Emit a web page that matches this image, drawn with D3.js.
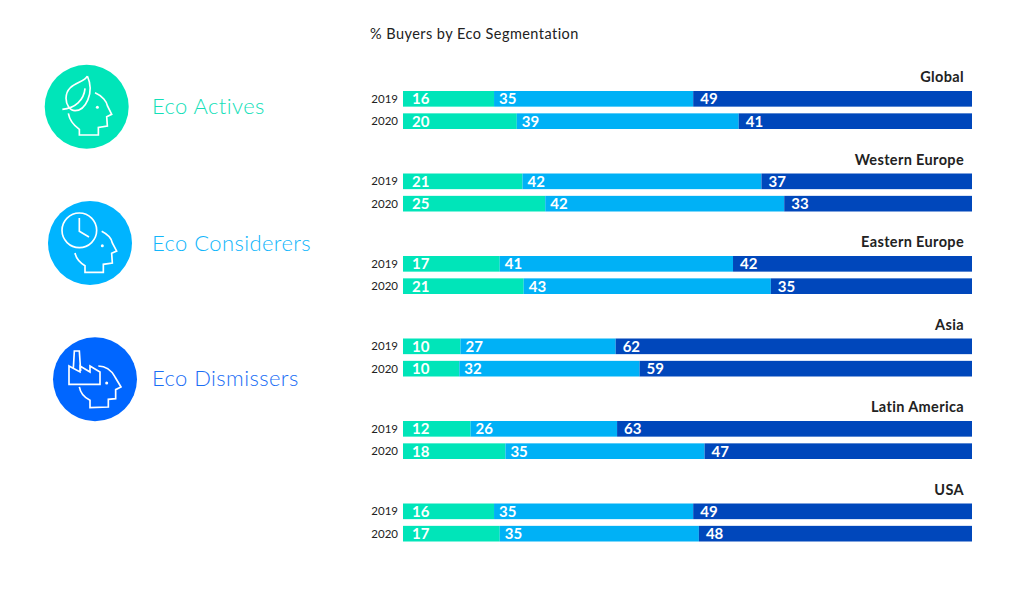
<!DOCTYPE html>
<html>
<head>
<meta charset="utf-8">
<script src="https://cdnjs.cloudflare.com/ajax/libs/d3/7.8.5/d3.min.js"></script>
<style>
html, body { margin: 0; padding: 0; background: #fff; }
svg { display: block; font-family: Lato, "Open Sans", sans-serif; }
</style>
</head>
<body>
<svg id="chart" width="1036" height="593"></svg>
<script>
// values
const regions = ["Global", "Western Europe", "Eastern Europe", "Asia", "Latin America", "USA"];
const years = ["2019", "2020"];
const segments = ["Eco Actives", "Eco Considerers", "Eco Dismissers"];
const ecoActives     = [16, 20, 21, 25, 17, 21, 10, 10, 12, 18, 16, 17];
const ecoConsiderers = [35, 39, 42, 42, 41, 43, 27, 32, 26, 35, 35, 35];
const ecoDismissers  = [49, 41, 37, 33, 42, 35, 62, 59, 63, 47, 49, 48];
const chartTitle = "% Buyers by Eco Segmentation";

const barColours = ["#00e5b9", "#00b1f6", "#0047bb"];
const iconColours = ["#00e5b9", "#00b4ff", "#0066ff"];
const legendTextColours = ["#12e0b8", "#12b6fb", "#1a6ef5"];

const svg = d3.select("#chart");

const rows = [];
regions.forEach((region, r) => {
	years.forEach((year, y) => {
		let i = r * years.length + y;
		rows.push({
			region: region,
			year: year,
			"Eco Actives": ecoActives[i],
			"Eco Considerers": ecoConsiderers[i],
			"Eco Dismissers": ecoDismissers[i]
		});
	});
});

// rounded rows do not always sum to 100, the bars still fill the full width
const stacked = d3.stack().keys(segments).offset(d3.stackOffsetExpand)(rows);

const x = d3.scaleLinear().domain([0, 1]).range([403, 972]);
const regionY = d3.scaleBand().domain(regions).range([91, 586]).paddingInner(0);
const yearY = d3.scaleBand().domain(years).range([0, 38]).paddingInner(0.3);
const rowY = d => regionY(d.data.region) + yearY(d.data.year);
const labelOffset = [9, 5, 7];

const bars = svg.append("g").attr("class", "bars");
stacked.forEach((series, s) => {
	let g = bars.append("g");
	g.selectAll("rect")
		.data(series)
		.enter().append("rect")
		.attr("x", d => x(d[0]))
		.attr("y", rowY)
		.attr("width", d => x(d[1]) - x(d[0]))
		.attr("height", yearY.bandwidth())
		.attr("fill", barColours[s]);
	g.selectAll("text")
		.data(series)
		.enter().append("text")
		.attr("x", d => x(d[0]) + labelOffset[s])
		.attr("y", d => rowY(d) + yearY.bandwidth() / 2 + 5.5)
		.attr("font-size", 15)
		.attr("font-weight", 700)
		.attr("fill", "#fff")
		.text(d => d.data[segments[s]]);
});

// year labels
svg.append("g").selectAll("text")
	.data(rows)
	.enter().append("text")
	.attr("x", 398)
	.attr("y", d => regionY(d.region) + yearY(d.year) + yearY.bandwidth() / 2 + 4)
	.attr("text-anchor", "end")
	.attr("font-size", 11.5)
	.attr("fill", "#222")
	.text(d => d.year);

// region names
svg.append("g").selectAll("text")
	.data(regions)
	.enter().append("text")
	.attr("x", 964)
	.attr("y", d => regionY(d) - 9)
	.attr("text-anchor", "end")
	.attr("font-size", 14.5)
	.attr("font-weight", 700)
	.attr("letter-spacing", 0.35)
	.attr("fill", "#222")
	.text(d => d);

svg.append("text")
	.attr("x", 370)
	.attr("y", 39)
	.attr("font-size", 14.5)
	.attr("letter-spacing", 0.45)
	.attr("fill", "#222")
	.text(chartTitle);

// legend icons, outlines traced by eye, units are 1/3 px from circle centre
const headPaths = [
	"M25,-42 C48,-32 60,-15 62,-3 L75,23 L60,30 L62,58 L35,62 L35,85 L-22,85 L-22,68 C-40,55 -52,38 -55,20",
	"M35,-35 C55,-25 65,-12 67,0 L80,24 L65,31 L67,60 L40,64 L40,88 L-15,88 L-15,68 C-32,58 -42,45 -45,30",
	"M10,-40 C35,-40 52,-22 60,-7 L78,23 L62,31 L62,58 L40,60 L40,83 L-15,85 L-15,63 C-32,55 -44,40 -47,23"
];
const eyes = [[32, 2], [37, 8], [35, 11]];
const leafPath = "M2,-92 C-8,-70 -62,-72 -62,-25 C-62,-5 -50,12 -35,12 C-5,12 25,-40 2,-92 M-73,8 C-35,5 -8,-20 -5,-55";
const clockPath = "M-32,-75 L-32,-35 L-3,-18";
const factoryPath = "M-78,-40 L-45,-22 L-45,-40 L-15,-22 L-15,-40 L15,-22 L15,15 L-78,15 Z M-65,-33 L-62,-85 L-47,-85 L-43,-25";

const legendCentres = [[86.7, 106.7], [90, 243], [95, 379.3]];
const legendTextY = [114, 251, 386];
const legend = svg.append("g").selectAll("g")
	.data(segments)
	.enter().append("g");

legend.append("circle")
	.attr("cx", (d, i) => legendCentres[i][0])
	.attr("cy", (d, i) => legendCentres[i][1])
	.attr("r", 42)
	.attr("fill", (d, i) => iconColours[i]);

legend.append("text")
	.attr("x", 152)
	.attr("y", (d, i) => legendTextY[i])
	.attr("font-size", 22)
	.attr("font-weight", 300)
	.attr("letter-spacing", 0.4)
	.attr("fill", (d, i) => legendTextColours[i])
	.text(d => d);

const icon = legend.append("g")
	.attr("transform", (d, i) => `translate(${legendCentres[i][0]},${legendCentres[i][1]}) scale(0.3333)`)
	.attr("fill", "none")
	.attr("stroke", "#fff")
	.attr("stroke-width", 5);

icon.append("path").attr("d", (d, i) => headPaths[i]);
icon.append("circle")
	.attr("cx", (d, i) => eyes[i][0])
	.attr("cy", (d, i) => eyes[i][1])
	.attr("r", 4.5)
	.attr("fill", "#fff")
	.attr("stroke", "none");

icon.filter((d, i) => i === 0).append("path").attr("d", leafPath);
icon.filter((d, i) => i === 1).append("circle").attr("cx", -32).attr("cy", -38).attr("r", 52);
icon.filter((d, i) => i === 1).append("path").attr("d", clockPath);
icon.filter((d, i) => i === 2).append("path").attr("d", factoryPath);
</script>
</body>
</html>
